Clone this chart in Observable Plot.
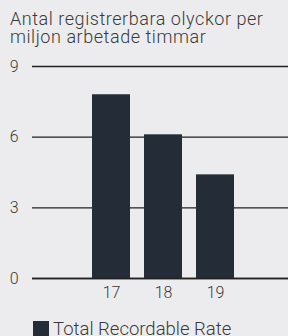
<!DOCTYPE html>
<html><head><meta charset="utf-8">
<script src="https://cdn.jsdelivr.net/npm/d3@7"></script>
<script src="https://cdn.jsdelivr.net/npm/@observablehq/plot@0.6"></script>
<style>
html,body{margin:0;padding:0;background:#ececee;width:288px;height:336px;overflow:hidden;font-family:Roboto,"Noto Sans",sans-serif;color:#3a3a3a;font-weight:300;}
#title{font-size:18px;line-height:17.5px;padding:10px 0 0 10px;height:34px;white-space:nowrap;letter-spacing:0.55px;}
#chart svg{display:block;background:transparent;}
#legend{margin-top:17px;margin-left:33px;display:flex;align-items:flex-start;font-size:18.5px;line-height:16px;white-space:nowrap;}
#legend .sw{width:16px;height:16px;background:#232c37;margin-right:4px;flex:none;}
</style></head>
<body>
<div id="title">Antal registrerbara olyckor per<br>miljon arbetade timmar</div>
<div id="chart"></div>
<div id="legend"><div class="sw"></div><span>Total Recordable Rate</span></div>
<script>
const years = ["17", "18", "19"];
const values = [7.8, 6.1, 4.4];
const yTicks = [0, 3, 6, 9];
const seriesName = "Total Recordable Rate";
const data = years.map((y, i) => ({year: y, value: values[i], series: seriesName}));

const chart = Plot.plot({
  width: 288,
  height: 260,
  marginTop: 22,
  marginBottom: 26,
  marginLeft: 32,
  marginRight: 0,
  style: {background: "transparent", fontFamily: "Roboto, 'Noto Sans', sans-serif", fontSize: "16px", fontWeight: 300, color: "#3a3a3a"},
  x: {domain: years, range: [76.5, 248.5], padding: 0.276, label: null},
  y: {domain: [0, 9], label: null},
  marks: [
    Plot.ruleY(yTicks, {stroke: "#222", strokeWidth: 1.3}),
    Plot.barY(data, {x: "year", y: "value", fill: "#232c37"}),
    Plot.ruleY([0], {stroke: "#222", strokeWidth: 1.6}),
    Plot.axisY(yTicks, {tickSize: 0, tickPadding: 14, fontSize: 16, fill: "#3a3a3a", label: null}),
    Plot.axisX({tickSize: 0, tickPadding: 8, fontSize: 16, fill: "#3a3a3a", label: null})
  ]
});
document.getElementById("chart").appendChild(chart);
</script>
</body></html>
